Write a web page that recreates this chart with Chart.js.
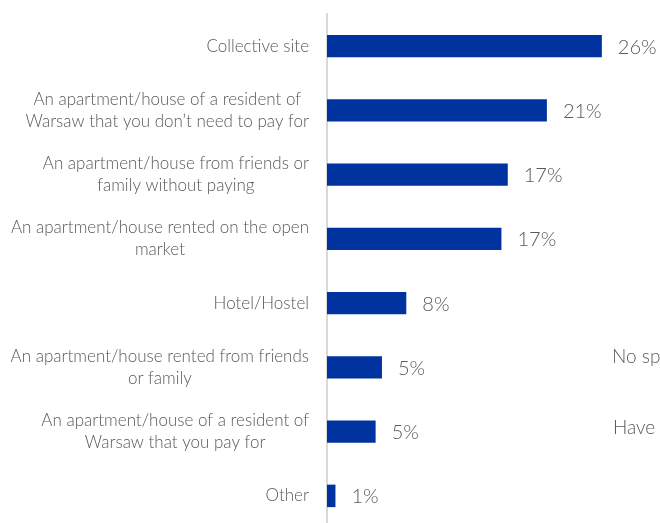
<!DOCTYPE html>
<html>
<head>
<meta charset="utf-8">
<script src="https://cdn.jsdelivr.net/npm/chart.js@4"></script>
<style>
  html, body { margin: 0; padding: 0; background: #fff; overflow: hidden; }
  #wrap { position: relative; width: 660px; height: 530px; }
  .side { position: absolute; font: 300 19px Lato, sans-serif; color: #595959; white-space: nowrap; }
</style>
</head>
<body>
<div id="wrap">
  <canvas id="stayChart" width="660" height="530"></canvas>
  <div class="side" style="left:612px; top:344px;">No specific place</div>
  <div class="side" style="left:613px; top:415px;">Have not decided</div>
</div>
<script>
const stayLabels = [
  ["Collective site"],
  ["An apartment/house of a resident of", "Warsaw that you don\u2019t need to pay for"],
  ["An apartment/house from friends or", "family without paying"],
  ["An apartment/house rented on the open", "market"],
  ["Hotel/Hostel"],
  ["An apartment/house rented from friends", "or family"],
  ["An apartment/house of a resident of", "Warsaw that you pay for"],
  ["Other"]
];
const stayShares = [26.0, 20.8, 17.1, 16.5, 7.5, 5.2, 4.6, 0.8];

const textColor = "#595959";
const labelFont = "300 17px Lato, sans-serif";
const valueFont = "300 20px Lato, sans-serif";

// category names, each block right-aligned to the axis with lines centred inside it
const categoryText = {
  id: "categoryText",
  afterDraw(chart) {
    const ctx = chart.ctx;
    const y = chart.scales.y;
    const right = 309;
    const lineH = 22;
    ctx.save();
    ctx.font = labelFont;
    ctx.fillStyle = textColor;
    ctx.textAlign = "center";
    ctx.textBaseline = "middle";
    stayLabels.forEach((lines, i) => {
      const w = Math.max(...lines.map(l => ctx.measureText(l).width));
      const cx = right - w / 2;
      const cy = y.getPixelForValue(i);
      lines.forEach((l, j) => {
        ctx.fillText(l, cx, cy + (j - (lines.length - 1) / 2) * lineH);
      });
    });
    ctx.restore();
  }
};

// percentage to the right of each bar
const valueText = {
  id: "valueText",
  afterDatasetsDraw(chart) {
    const ctx = chart.ctx;
    ctx.save();
    ctx.font = valueFont;
    ctx.fillStyle = textColor;
    ctx.textAlign = "left";
    ctx.textBaseline = "middle";
    chart.getDatasetMeta(0).data.forEach((bar, i) => {
      ctx.fillText(Math.round(stayShares[i]) + "%", bar.x + 16, bar.y + 1);
    });
    ctx.restore();
  }
};

new Chart("stayChart", {
  type: "bar",
  data: {
    labels: stayLabels,
    datasets: [{
      data: stayShares,
      backgroundColor: "#0033a0",
      barPercentage: 0.7,
      categoryPercentage: 0.5
    }]
  },
  options: {
    indexAxis: "y",
    responsive: false,
    animation: false,
    layout: { padding: { left: 319, top: 14, bottom: 2, right: 0 } },
    plugins: { legend: { display: false }, tooltip: { enabled: false } },
    scales: {
      x: { display: false, min: 0, max: 31.5 },
      y: {
        grid: { display: false },
        border: { display: true, color: "#d9d9d9", width: 2 },
        ticks: { display: false }
      }
    }
  },
  plugins: [categoryText, valueText]
});
</script>
</body>
</html>
